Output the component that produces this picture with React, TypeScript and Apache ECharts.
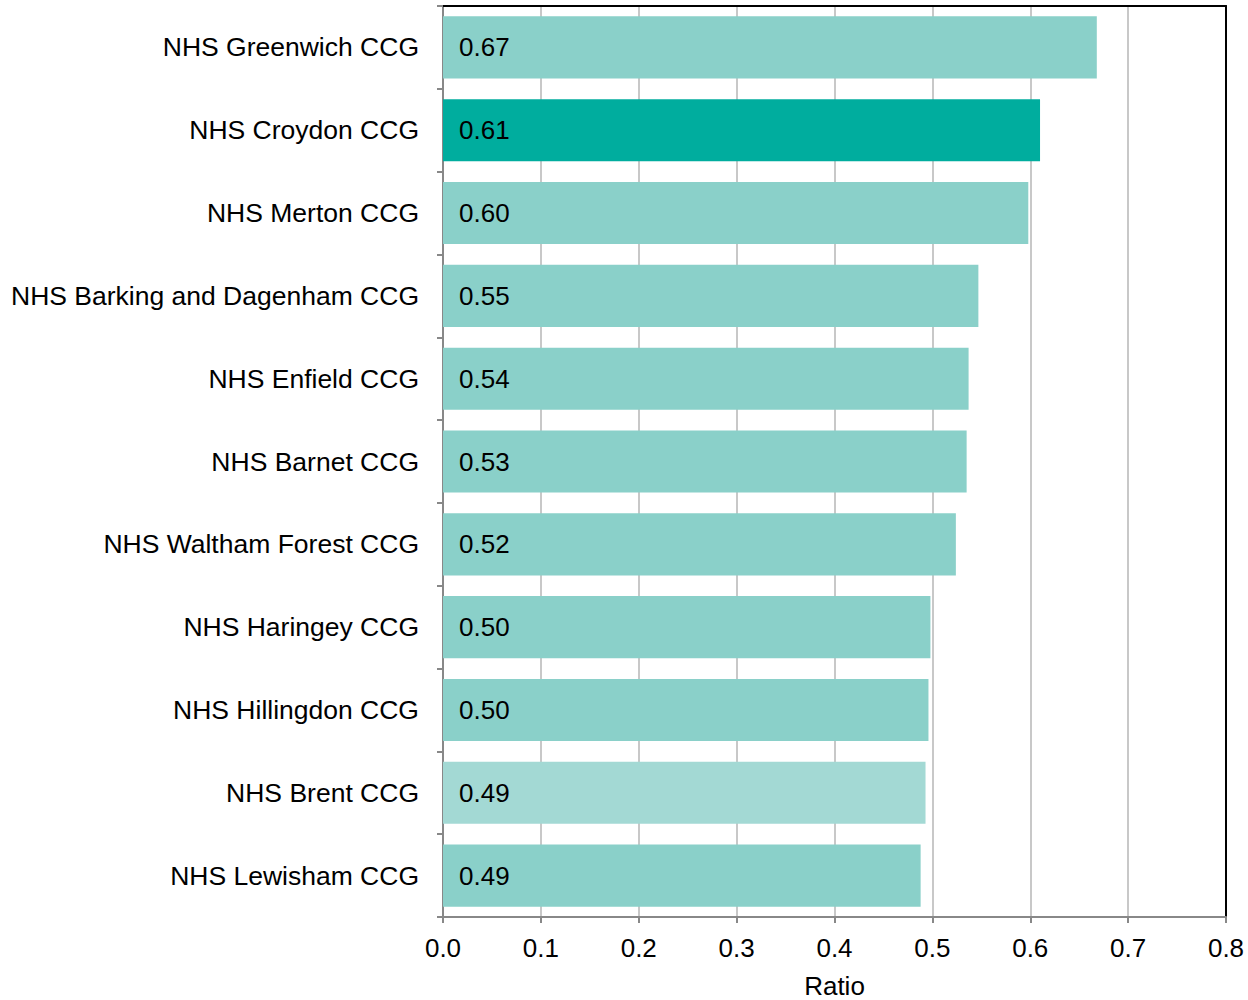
import React, { useEffect, useRef } from "react";
import * as echarts from "echarts";

const categories = [
  "NHS Greenwich CCG",
  "NHS Croydon CCG",
  "NHS Merton CCG",
  "NHS Barking and Dagenham CCG",
  "NHS Enfield CCG",
  "NHS Barnet CCG",
  "NHS Waltham Forest CCG",
  "NHS Haringey CCG",
  "NHS Hillingdon CCG",
  "NHS Brent CCG",
  "NHS Lewisham CCG",
];
const values = [0.668, 0.61, 0.598, 0.547, 0.537, 0.535, 0.524, 0.498, 0.496, 0.493, 0.488];
const labels = ["0.67", "0.61", "0.60", "0.55", "0.54", "0.53", "0.52", "0.50", "0.50", "0.49", "0.49"];
const highlight = "NHS Croydon CCG";
const lighter = "NHS Brent CCG";

const FONT = "Liberation Sans, Arial, sans-serif";

export default function App() {
  const ref = useRef<HTMLDivElement>(null);
  useEffect(() => {
    if (!ref.current) return;
    const chart = echarts.init(ref.current, null, { renderer: "svg" });
    chart.setOption({
      animation: false,
      textStyle: { fontFamily: FONT },
      grid: {
        left: 443,
        right: 22,
        top: 6,
        bottom: 83,
        outerBoundsMode: "none",
        containLabel: false,
        show: false,
      },
      xAxis: [
        {
          type: "value",
          min: 0,
          max: 0.8,
          interval: 0.1,
          name: "Ratio",
          nameLocation: "middle",
          nameGap: 57,
          nameTextStyle: { fontSize: 26, lineHeight: 24, color: "#000", fontFamily: FONT },
          axisLine: { show: true, onZero: false, lineStyle: { color: "#888", width: 2 } },
          axisTick: { show: true, length: 6, lineStyle: { color: "#888", width: 2 } },
          axisLabel: {
            fontSize: 26,
            color: "#000",
            margin: 18,
            fontFamily: FONT,
            formatter: (v: number) => v.toFixed(1),
          },
          splitLine: { show: true, lineStyle: { color: "#c8c8c8", width: 2 } },
        },
        {
          type: "value",
          position: "top",
          min: 0,
          max: 0.8,
          interval: 0.1,
          axisLine: { show: true, onZero: false, lineStyle: { color: "#000", width: 2 } },
          axisTick: { show: false },
          axisLabel: { show: false },
          splitLine: { show: false },
        },
      ],
      yAxis: [
        {
          type: "category",
          data: categories,
          inverse: true,
          position: "left",
          axisLine: { show: true, onZero: false, lineStyle: { color: "#888", width: 2 } },
          axisTick: { show: true, length: 6, lineStyle: { color: "#888", width: 2 } },
          axisLabel: { fontSize: 26.5, color: "#000", margin: 24, fontFamily: FONT },
          splitLine: { show: false },
        },
        {
          type: "category",
          data: categories,
          inverse: true,
          position: "right",
          axisLine: { show: true, onZero: false, lineStyle: { color: "#000", width: 2 } },
          axisTick: { show: false },
          axisLabel: { show: false },
          splitLine: { show: false },
        },
      ],
      series: [
        {
          type: "bar",
          barCategoryGap: "25%",
          xAxisIndex: 0,
          yAxisIndex: 0,
          data: values.map((v, i) => ({
            value: v,
            itemStyle: {
              color:
                categories[i] === highlight
                  ? "#00ad9e"
                  : categories[i] === lighter
                  ? "#a3d9d4"
                  : "#8ad0c9",
            },
          })),
          label: {
            show: true,
            position: "insideLeft",
            distance: 16,
            fontSize: 26,
            color: "#000",
            fontFamily: FONT,
            formatter: (p: any) => labels[p.dataIndex],
          },
        },
      ],
    });
    return () => chart.dispose();
  }, []);
  return (
    <div
      ref={ref}
      style={{ position: "fixed", left: 0, top: 0, width: 1248, height: 1000, background: "#fff" }}
    />
  );
}
